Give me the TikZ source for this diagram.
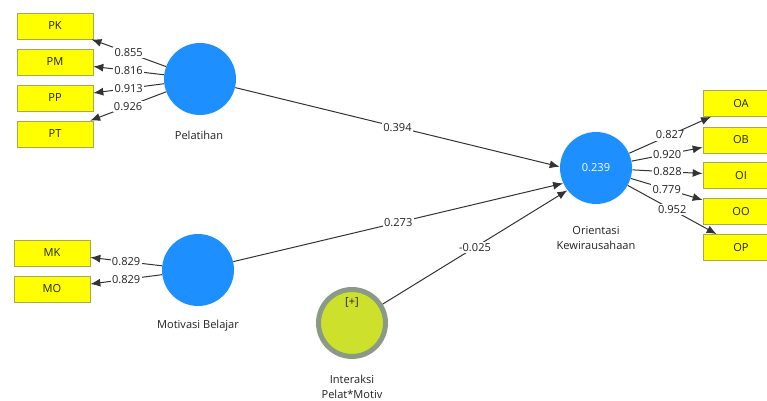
\documentclass[tikz,border=0pt]{standalone}
\usepackage{fontspec}
\setmainfont{Open Sans}
\usetikzlibrary{arrows.meta}
\definecolor{lvblue}{HTML}{1E8FFF}
\definecolor{indyellow}{HTML}{FFFF00}
\definecolor{indborder}{HTML}{A8A850}
\definecolor{modfill}{HTML}{CCE02C}
\definecolor{modring}{HTML}{8A9A86}
\definecolor{linegray}{HTML}{333333}
\definecolor{txtgray}{HTML}{222222}

\begin{document}
\begin{tikzpicture}[x=0.02cm, y=-0.02cm,
    font=\fontsize{6.3}{8.5}\selectfont, text=txtgray,
    lv/.style={circle, fill=lvblue, minimum size=1.44cm, inner sep=0pt},
    modlv/.style={circle, fill=modfill, draw=modring, line width=0.1cm, minimum size=1.34cm, inner sep=0pt},
    ind/.style={draw=indborder, fill=indyellow, line width=0.4pt, minimum width=1.52cm, minimum height=0.52cm, inner sep=0pt},
    conn/.style={draw=linegray, line width=0.02cm, -{Latex[length=0.2cm, width=0.16cm]}},
    wlbl/.style={fill=white, inner sep=0.8pt},
    lvname/.style={align=center}]

    \useasboundingbox (0,0) rectangle (767,401);

% Pelatihan
    \node[lv] (pel) at (200,79) {};
    \node[lvname] (pelname) at (199,135) {Pelatihan};
    % Indicators
    \node[ind] (pk) at (55,26) {PK};
    \node[ind] (pm) at (55,62) {PM};
    \node[ind] (pp) at (55,98) {PP};
    \node[ind] (pt) at (55,134) {PT};
    % Loadings
    \draw[conn] (pel) -- node[wlbl] {0.855} (pk);
    \draw[conn] (pel) -- node[wlbl] {0.816} (pm);
    \draw[conn] (pel) -- node[wlbl] {0.913} (pp);
    \draw[conn] (pel) -- node[wlbl] {0.926} (pt);

% Motivasi Belajar
    \node[lv] (mot) at (198,270) {};
    \node[lvname] (motname) at (198,326) {Motivasi Belajar};
    % Indicators
    \node[ind] (mk) at (52,253) {MK};
    \node[ind] (mo) at (52,289) {MO};
    % Loadings
    \draw[conn] (mot) -- node[wlbl] {0.829} (mk);
    \draw[conn] (mot) -- node[wlbl] {0.829} (mo);

% Interaksi
    \node[modlv] (inter) at (352,323) {};
    \node (plus) at (352,302) {[+]};
    \node[lvname] (intername) at (352,387) {Interaksi\\Pelat*Motiv};

% Orientasi Kewirausahaan
    \node[lv, text=white] (ori) at (596,168) {0.239};
    \node[lvname] (oriname) at (596,238) {Orientasi\\Kewirausahaan};
    % Indicators
    \node[ind] (oa) at (741,103.5) {OA};
    \node[ind] (ob) at (741,140) {OB};
    \node[ind] (oi) at (741,175.5) {OI};
    \node[ind] (oo) at (741,211.5) {OO};
    \node[ind] (op) at (741,247.5) {OP};
    % Loadings
    \draw[conn] (ori) -- node[wlbl] {0.827} (oa);
    \draw[conn] (ori) -- node[wlbl] {0.920} (ob);
    \draw[conn] (ori) -- node[wlbl] {0.828} (oi);
    \draw[conn] (ori) -- node[wlbl] {0.779} (oo);
    \draw[conn] (ori) -- node[wlbl] {0.952} (op);

% Path coefficients
    \draw[conn] (pel) -- node[wlbl] {0.394} (ori.178);
    \draw[conn] (mot) -- node[wlbl] {0.273} (ori.205);
    \draw[conn] (inter) -- node[wlbl] {-0.025} (ori.218);

\end{tikzpicture}
\end{document}
